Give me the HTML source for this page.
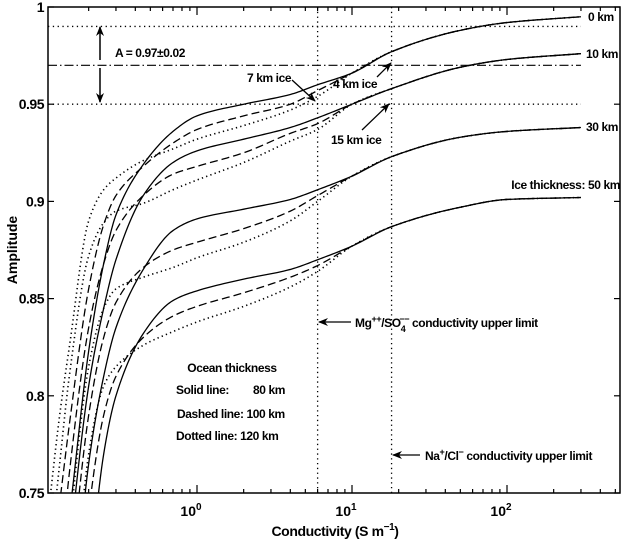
<!DOCTYPE html>
<html><head><meta charset="utf-8"><style>
html,body{margin:0;padding:0;background:#fff;width:626px;height:547px;overflow:hidden;}
svg{display:block;font-family:"Liberation Sans",Arial,sans-serif;}
</style></head><body>
<svg id="chart" width="626" height="547" viewBox="0 0 626 547" xmlns="http://www.w3.org/2000/svg" overflow="hidden">
<defs><clipPath id="plotclip"><rect x="48" y="7" width="572" height="486"/></clipPath>
<marker id="ah" markerWidth="10" markerHeight="8" refX="9" refY="4" orient="auto" markerUnits="userSpaceOnUse"><path d="M0,0 L10,4 L0,8 L3,4 Z" fill="#000"/></marker></defs>
<g id="grid"></g>
<g id="series" clip-path="url(#plotclip)"></g>
<g id="axes"></g>
<g id="annot" font-size="12" font-weight="bold" letter-spacing="-0.4">
<text x="115" y="57">A = 0.97±0.02</text>
<line x1="100" y1="60" x2="100" y2="27" stroke="#000" stroke-width="1.5" marker-end="url(#ah)"/>
<line x1="100" y1="68" x2="100" y2="102" stroke="#000" stroke-width="1.5" marker-end="url(#ah)"/>
<text x="247" y="82">7 km ice</text>
<line x1="292" y1="80" x2="315" y2="101" stroke="#000" stroke-width="1.3" marker-end="url(#ah)"/>
<text x="333" y="88">4 km ice</text>
<line x1="377" y1="77" x2="391" y2="63" stroke="#000" stroke-width="1.3" marker-end="url(#ah)"/>
<text x="331" y="144">15 km ice</text>
<line x1="362" y1="130" x2="389" y2="104" stroke="#000" stroke-width="1.3" marker-end="url(#ah)"/>
<text x="588" y="21">0 km</text>
<text x="586" y="58">10 km</text>
<text x="586" y="131">30 km</text>
<text x="620" y="189" text-anchor="end">Ice thickness: 50 km</text>
<line x1="351" y1="322" x2="319" y2="322" stroke="#000" stroke-width="1.3" marker-end="url(#ah)"/>
<text x="355" y="327">Mg<tspan dy="-5" font-size="9">++</tspan><tspan dy="5">/SO</tspan><tspan dy="5" font-size="9">4</tspan><tspan dy="-10" dx="-6" font-size="9">−−</tspan><tspan dy="5"> conductivity upper limit</tspan></text>
<line x1="420" y1="455" x2="393" y2="455" stroke="#000" stroke-width="1.3" marker-end="url(#ah)"/>
<text x="425" y="460">Na<tspan dy="-5" font-size="9">+</tspan><tspan dy="5">/Cl</tspan><tspan dy="-5" font-size="9">−</tspan><tspan dy="5"> conductivity upper limit</tspan></text>
<g>
<text x="232" y="372" text-anchor="middle">Ocean thickness</text>
<text x="176" y="394">Solid line:</text>
<text x="253" y="394">80 km</text>
<text x="177" y="418">Dashed line: 100 km</text>
<text x="176" y="440">Dotted line:  120 km</text>
</g>
</g>
</svg>
<script>
const conductivity = [0.11,0.13,0.15,0.2,0.25,0.3,0.45,0.7,1,2,4,6,10,18,50,100,300];
const ice0_solid  = [0.66,0.70,0.738,0.823,0.868,0.893,0.919,0.936,0.944,0.950,0.955,0.960,0.966,0.977,0.988,0.992,0.995];
const ice0_dashed = [0.70,0.745,0.785,0.855,0.888,0.903,0.918,0.930,0.937,0.944,0.950,0.957,0.966,0.977,0.988,0.992,0.995];
const ice0_dotted = [0.74,0.79,0.825,0.89,0.906,0.912,0.921,0.927,0.932,0.939,0.947,0.954,0.966,0.977,0.988,0.992,0.995];
const ice10_solid  = [0.62,0.67,0.72,0.805,0.845,0.87,0.903,0.92,0.926,0.932,0.938,0.943,0.950,0.958,0.969,0.973,0.976];
const ice10_dashed = [0.66,0.71,0.76,0.835,0.868,0.885,0.903,0.914,0.918,0.925,0.935,0.940,0.950,0.958,0.969,0.973,0.976];
const ice10_dotted = [0.71,0.765,0.81,0.872,0.889,0.895,0.899,0.906,0.911,0.92,0.931,0.937,0.950,0.958,0.969,0.973,0.976];
const ice30_solid  = [0.55,0.61,0.66,0.765,0.81,0.835,0.865,0.885,0.891,0.896,0.901,0.906,0.913,0.923,0.933,0.936,0.938];
const ice30_dashed = [0.59,0.65,0.70,0.79,0.83,0.848,0.866,0.875,0.879,0.886,0.895,0.903,0.913,0.923,0.933,0.936,0.938];
const ice30_dotted = [0.62,0.68,0.73,0.815,0.845,0.855,0.861,0.866,0.871,0.879,0.890,0.900,0.913,0.923,0.933,0.936,0.938];
const ice50_solid  = [0.45,0.52,0.58,0.70,0.77,0.80,0.832,0.849,0.854,0.86,0.865,0.870,0.877,0.887,0.897,0.901,0.902];
const ice50_dashed = [0.50,0.57,0.63,0.74,0.79,0.81,0.83,0.841,0.846,0.853,0.861,0.867,0.877,0.887,0.897,0.901,0.902];
const ice50_dotted = [0.53,0.60,0.66,0.77,0.805,0.815,0.826,0.833,0.838,0.846,0.856,0.864,0.877,0.887,0.897,0.901,0.902];
const yTicks = [0.75,0.8,0.85,0.9,0.95,1];
const yTickLabels = ["0.75","0.8","0.85","0.9","0.95","1"];
const xDecades = [0,1,2];
const refLevels = [0.99,0.95];
const targetLevel = 0.97;
const limitConductivities = [6,18];
const curveEnd = 300;

const NS="http://www.w3.org/2000/svg";
const L=48,R=620,T=7,B=493;
function X(c){return 197+155*Math.log10(c);}
function Y(a){return T+(1-a)*(B-T)/0.25;}
function mk(tag,attrs,parent){const e=document.createElementNS(NS,tag);for(const k in attrs)e.setAttribute(k,attrs[k]);parent.appendChild(e);return e;}

const grid=document.getElementById('grid');
refLevels.forEach(v=>{
  const l=mk('line',{x1:L,x2:X(curveEnd),y1:Y(v),y2:Y(v),stroke:'#000','stroke-width':1.3,'stroke-dasharray':'1.3 3.5'},grid);
  
  
});
const tl=mk('line',{x1:L,x2:X(curveEnd),y1:Y(targetLevel),y2:Y(targetLevel),stroke:'#000','stroke-width':1.2,'stroke-dasharray':'9 3 1.5 3'},grid);


limitConductivities.forEach(c=>{
  const l=mk('line',{x1:X(c),x2:X(c),y1:T,y2:B,stroke:'#000','stroke-width':1.3,'stroke-dasharray':'1.3 3.5'},grid);
  
  
});

function pathFor(vals){
  const xs=conductivity.map(c=>Math.log10(c)), ys=vals, n=xs.length;
  const dl=[],m=[];
  for(let i=0;i<n-1;i++)dl.push((ys[i+1]-ys[i])/(xs[i+1]-xs[i]));
  m[0]=dl[0];m[n-1]=dl[n-2];
  for(let i=1;i<n-1;i++){
    if(dl[i-1]*dl[i]<=0)m[i]=0;
    else{const w1=2*(xs[i+1]-xs[i])+(xs[i]-xs[i-1]),w2=(xs[i+1]-xs[i])+2*(xs[i]-xs[i-1]);m[i]=(w1+w2)/(w1/dl[i-1]+w2/dl[i]);}
  }
  let d='';
  for(let i=0;i<n-1;i++){
    const h=xs[i+1]-xs[i];
    for(let s=(i?1:0);s<=14;s++){
      const t=s/14,t2=t*t,t3=t2*t;
      const y=(2*t3-3*t2+1)*ys[i]+(t3-2*t2+t)*h*m[i]+(-2*t3+3*t2)*ys[i+1]+(t3-t2)*h*m[i+1];
      const x=xs[i]+h*t;
      d+=(d?'L':'M')+(197+155*x).toFixed(2)+','+Y(y).toFixed(2);
    }
  }
  return d;
}
const series=document.getElementById('series');
const styles={solid:'',dashed:'8 4',dotted:'1.3 3.2'};
[['ice0',[ice0_solid,ice0_dashed,ice0_dotted]],['ice10',[ice10_solid,ice10_dashed,ice10_dotted]],['ice30',[ice30_solid,ice30_dashed,ice30_dotted]],['ice50',[ice50_solid,ice50_dashed,ice50_dotted]]].forEach(([name,arr])=>{
  ['solid','dashed','dotted'].forEach((st,k)=>{
    const p=mk('path',{d:pathFor(arr[k]),fill:'none',stroke:'#000','stroke-width':st==='dotted'?1.6:1.3,'stroke-dasharray':styles[st]},series);
    
    
  });
});

const axes=document.getElementById('axes');
const fr=mk('rect',{x:L,y:T,width:R-L,height:B-T,fill:'none',stroke:'#000','stroke-width':1.5},axes);


yTicks.forEach((v,i)=>{
  mk('line',{x1:L,x2:L+6,y1:Y(v),y2:Y(v),stroke:'#000','stroke-width':1.2},axes);
  mk('line',{x1:R,x2:R-6,y1:Y(v),y2:Y(v),stroke:'#000','stroke-width':1.2},axes);
  const t=mk('text',{x:L-4,y:Y(v)+5,'text-anchor':'end','font-size':14,'font-weight':'bold','letter-spacing':'-0.5'},axes);
  t.textContent=yTickLabels[i];
  
  
});
for(let e=-1;e<=2;e++){for(let m=1;m<=9;m++){
  const c=m*Math.pow(10,e);const x=X(c);if(x<L||x>R)continue;
  const len=m===1?8:4;
  mk('line',{x1:x,x2:x,y1:B,y2:B-len,stroke:'#000','stroke-width':1.2},axes);
  mk('line',{x1:x,x2:x,y1:T,y2:T+len,stroke:'#000','stroke-width':1.2},axes);
}}
xDecades.forEach(d=>{
  const t=mk('text',{x:X(Math.pow(10,d))-6,y:516,'text-anchor':'middle','font-size':14,'font-weight':'bold'},axes);
  t.innerHTML='10<tspan dy="-6" font-size="10">'+d+'</tspan>';
  
  
});
const xl=mk('text',{x:335,y:536,'text-anchor':'middle','font-size':14,'font-weight':'bold','letter-spacing':'-0.4'},axes);
xl.innerHTML='Conductivity (S m<tspan dy="-6" font-size="10">−1</tspan><tspan dy="6">)</tspan>';


const yl=mk('text',{x:0,y:0,'text-anchor':'middle','font-size':14,'font-weight':'bold',transform:'translate(17,250) rotate(-90)'},axes);
yl.textContent='Amplitude';


</script>
</body></html>
